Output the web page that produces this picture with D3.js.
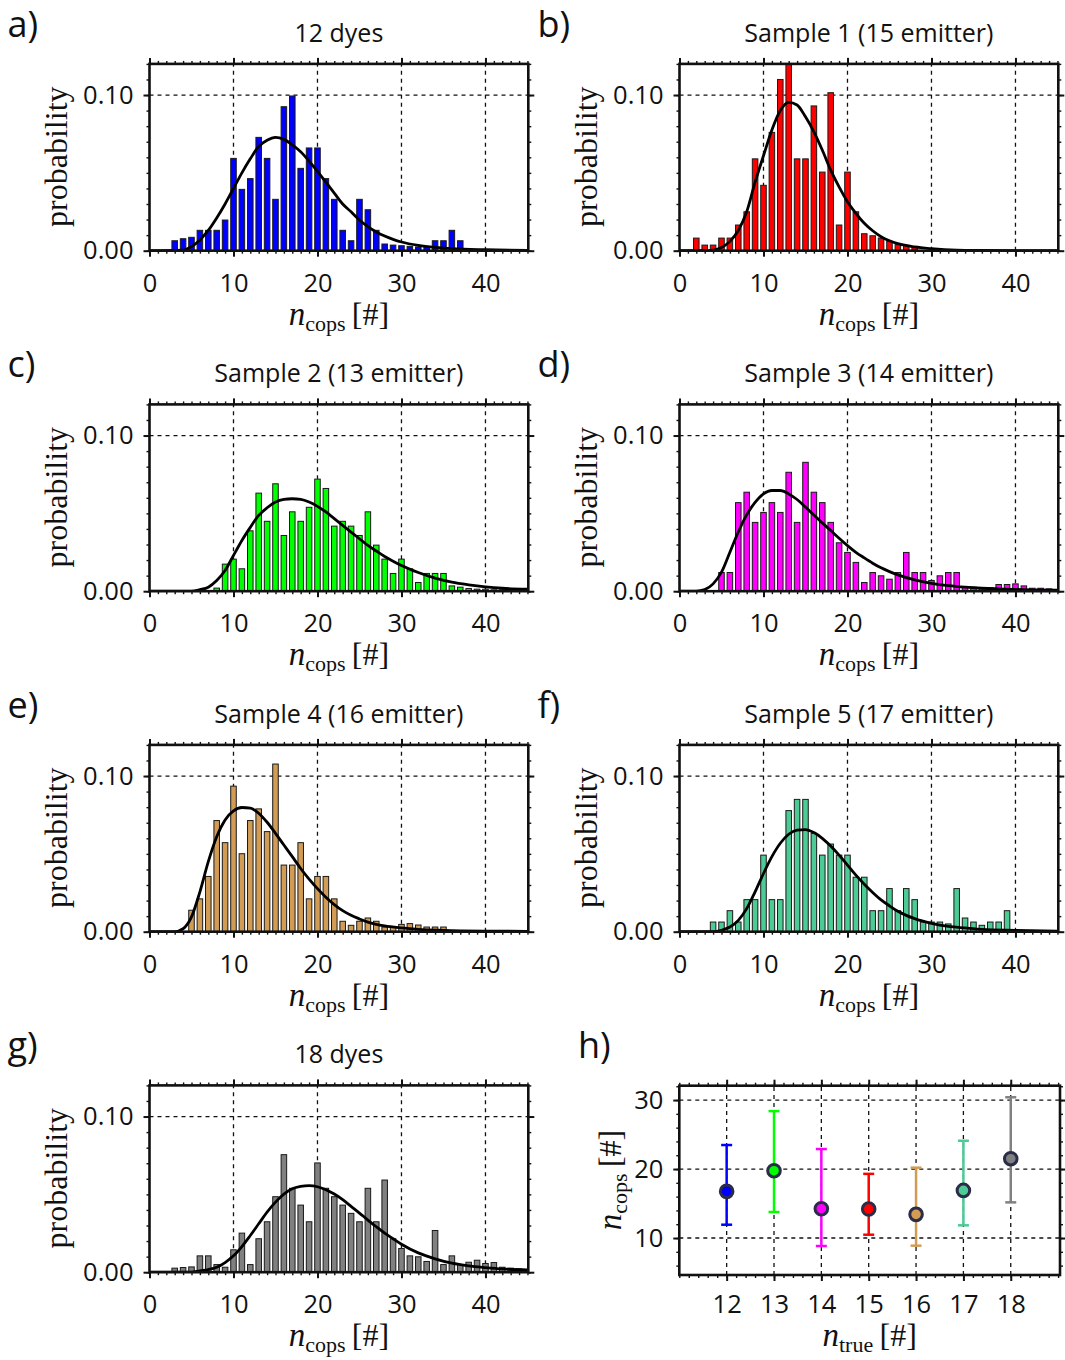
<!DOCTYPE html>
<html>
<head>
<meta charset="utf-8">
<script src="https://cdn.jsdelivr.net/npm/d3@7"></script>
<style>
  body { margin: 0; background: #fff; }
  svg { display: block; }
  .sans { font-family: "Open Sans", "Noto Sans", sans-serif; fill: #111; }
  .serif { font-family: "Liberation Serif", "DejaVu Serif", serif; fill: #111; }
</style>
</head>
<body>
<svg id="fig" width="1065" height="1360"></svg>
<script>
// ---------- histogram data: probability per n_cops bin (first bin = *Start) ----------
const dyes12Start = 3;
const dyes12Prob = [0.0064, 0.0077, 0.0086, 0.0131, 0.0131, 0.0131, 0.0197, 0.0593, 0.0394, 0.0463,
  0.0728, 0.0593, 0.0330, 0.0925, 0.0994, 0.0529, 0.0660, 0.0660, 0.0463, 0.0330, 0.0131, 0.0064,
  0.0330, 0.0263, 0.0131, 0.0043, 0.0036, 0.0032, 0.0028, 0.0024, 0.0024, 0.0064, 0.0064, 0.0131, 0.0064];

const sample1Start = 2;
const sample1Prob = [0.0081, 0.0036, 0.0036, 0.0081, 0.0081, 0.0165, 0.0250, 0.0590, 0.0420, 0.0760,
  0.1100, 0.1250, 0.0590, 0.0590, 0.0930, 0.0505, 0.1015, 0.0165, 0.0505, 0.0250, 0.0109, 0.0096,
  0.0081, 0.0060, 0.0039, 0.0034, 0.0026];

const sample2Start = 8;
const sample2Prob = [0.0020, 0.0174, 0.0206, 0.0144, 0.0388, 0.0630, 0.0449, 0.0690, 0.0358, 0.0510,
  0.0449, 0.0539, 0.0720, 0.0660, 0.0418, 0.0449, 0.0418, 0.0358, 0.0510, 0.0296, 0.0206, 0.0114,
  0.0206, 0.0144, 0.0056, 0.0114, 0.0114, 0.0114, 0.0034, 0.0026, 0.0017, 0.0013, 0.0013, 0.0009,
  0.0009, 0.0009, 0.0009];

const sample3Start = 5;
const sample3Prob = [0.0120, 0.0120, 0.0569, 0.0636, 0.0442, 0.0506, 0.0569, 0.0506, 0.0764, 0.0442,
  0.0828, 0.0636, 0.0569, 0.0442, 0.0311, 0.0249, 0.0185, 0.0056, 0.0120, 0.0099, 0.0077, 0.0120,
  0.0249, 0.0120, 0.0120, 0.0069, 0.0099, 0.0120, 0.0120, 0.0030, 0.0026, 0.0021, 0.0021, 0.0043,
  0.0043, 0.0047, 0.0034, 0.0019, 0.0019, 0.0015];

const sample4Start = 5;
const sample4Prob = [0.0138, 0.0211, 0.0355, 0.0714, 0.0572, 0.0935, 0.0501, 0.0714, 0.0789, 0.0643,
  0.1077, 0.0428, 0.0428, 0.0572, 0.0211, 0.0355, 0.0355, 0.0211, 0.0067, 0.0041, 0.0067, 0.0088,
  0.0067, 0.0030, 0.0030, 0.0047, 0.0052, 0.0043, 0.0030, 0.0030, 0.0030];

const sample5Start = 4;
const sample5Prob = [0.0062, 0.0062, 0.0135, 0.0062, 0.0206, 0.0206, 0.0492, 0.0206, 0.0206, 0.0778,
  0.0850, 0.0850, 0.0632, 0.0492, 0.0563, 0.0492, 0.0492, 0.0350, 0.0350, 0.0135, 0.0135, 0.0277,
  0.0135, 0.0277, 0.0206, 0.0062, 0.0062, 0.0062, 0.0050, 0.0277, 0.0088, 0.0062, 0.0041, 0.0062,
  0.0062, 0.0135];

const dyes18Start = 3;
const dyes18Prob = [0.0026, 0.0030, 0.0034, 0.0105, 0.0105, 0.0049, 0.0032, 0.0144, 0.0251, 0.0049,
  0.0215, 0.0324, 0.0485, 0.0755, 0.0539, 0.0431, 0.0324, 0.0702, 0.0539, 0.0485, 0.0431, 0.0378,
  0.0324, 0.0539, 0.0324, 0.0592, 0.0215, 0.0152, 0.0105, 0.0099, 0.0069, 0.0268, 0.0049, 0.0105,
  0.0049, 0.0064, 0.0077, 0.0056, 0.0062, 0.0032, 0.0026, 0.0021];

// ---------- fitted distributions, sampled points ----------
const dyes12FitX = [0, 4, 5, 6, 7, 8, 9, 10, 11, 12, 13, 14, 15, 16, 17, 18, 19, 20, 21, 22, 23, 24, 25, 26, 27, 28, 29, 30, 32, 34, 36, 40, 45];
const dyes12FitY = [0, 0.0004, 0.0026, 0.0069, 0.013, 0.021, 0.030, 0.040, 0.050, 0.059, 0.067, 0.071, 0.0728, 0.0715, 0.068, 0.0636, 0.0576, 0.051, 0.044, 0.037, 0.030, 0.025, 0.0197, 0.0154, 0.012, 0.0094, 0.0073, 0.0056, 0.0034, 0.0021, 0.0013, 0.0006, 0.0002];

const sample1FitX = [0, 3, 4, 5, 6, 7, 8, 9, 10, 11, 12, 13, 14, 15, 16, 17, 18, 19, 20, 21, 22, 23, 24, 25, 26, 28, 30, 33, 36, 45];
const sample1FitY = [0, 0, 0.0004, 0.002, 0.006, 0.013, 0.025, 0.044, 0.061, 0.0775, 0.090, 0.0953, 0.0936, 0.086, 0.0764, 0.0647, 0.0518, 0.041, 0.0315, 0.024, 0.0176, 0.0128, 0.009, 0.0064, 0.0045, 0.0024, 0.0013, 0.0004, 0.0002, 0];

const sample2FitX = [0, 5, 6, 7, 8, 9, 10, 11, 12, 13, 14, 15, 16, 17, 18, 19, 20, 21, 22, 23, 24, 25, 26, 27, 28, 29, 30, 32, 34, 36, 38, 40, 42, 45];
const sample2FitY = [0, 0, 0.001, 0.0026, 0.0069, 0.0133, 0.023, 0.0326, 0.041, 0.0487, 0.0536, 0.0573, 0.059, 0.0594, 0.059, 0.0573, 0.0545, 0.0509, 0.0466, 0.0423, 0.038, 0.0337, 0.0294, 0.0258, 0.0223, 0.0193, 0.0165, 0.012, 0.0084, 0.0058, 0.0041, 0.0028, 0.0019, 0.0013];

const sample3FitX = [0, 2, 3, 4, 5, 6, 7, 8, 9, 10, 11, 12, 13, 14, 15, 16, 17, 18, 19, 20, 21, 22, 23, 24, 25, 26, 28, 30, 32, 34, 36, 40, 45];
const sample3FitY = [0, 0, 0.001, 0.0047, 0.0122, 0.025, 0.038, 0.049, 0.057, 0.0625, 0.0647, 0.0647, 0.0625, 0.0589, 0.054, 0.049, 0.0439, 0.039, 0.034, 0.0293, 0.025, 0.0214, 0.018, 0.015, 0.0126, 0.0105, 0.0073, 0.0051, 0.0036, 0.0026, 0.0019, 0.0011, 0.0006];

const sample4FitX = [0, 3, 4, 5, 6, 7, 8, 9, 10, 11, 12, 13, 14, 15, 16, 17, 18, 19, 20, 21, 22, 23, 24, 25, 26, 28, 30, 32, 35, 40, 45];
const sample4FitY = [0, 0, 0.0019, 0.0095, 0.0256, 0.045, 0.061, 0.0718, 0.0776, 0.0798, 0.0794, 0.0761, 0.0703, 0.0632, 0.0557, 0.0482, 0.0406, 0.0338, 0.0277, 0.0222, 0.0174, 0.0135, 0.0105, 0.0082, 0.0062, 0.0037, 0.0024, 0.0015, 0.0009, 0.0004, 0.0002];

const sample5FitX = [0, 4, 5, 6, 7, 8, 9, 10, 11, 12, 13, 14, 15, 16, 17, 18, 19, 20, 21, 22, 23, 24, 25, 26, 27, 28, 30, 32, 34, 36, 40, 45];
const sample5FitY = [0, 0, 0.0009, 0.003, 0.0073, 0.0148, 0.0256, 0.0374, 0.0482, 0.0568, 0.0626, 0.0652, 0.0656, 0.0637, 0.06, 0.055, 0.0492, 0.0428, 0.0363, 0.0305, 0.0252, 0.0204, 0.0166, 0.0131, 0.0105, 0.0084, 0.0054, 0.0034, 0.0024, 0.0015, 0.0009, 0.0004];

const dyes18FitX = [0, 5, 6, 7, 8, 9, 10, 11, 12, 13, 14, 15, 16, 17, 18, 19, 20, 21, 22, 23, 24, 25, 26, 27, 28, 29, 30, 32, 34, 36, 38, 40, 42, 45];
const dyes18FitY = [0, 0, 0.0009, 0.0017, 0.0032, 0.0062, 0.0105, 0.0165, 0.0236, 0.0311, 0.0386, 0.045, 0.0502, 0.0536, 0.0551, 0.0556, 0.0549, 0.053, 0.0502, 0.0466, 0.0423, 0.038, 0.0335, 0.0292, 0.0251, 0.0215, 0.018, 0.0124, 0.0086, 0.0058, 0.0041, 0.003, 0.0021, 0.0015];

// ---------- summary panel ----------
const nTrue = [12, 13, 14, 15, 16, 17, 18];
const nCopsMean = [16.76, 19.76, 14.25, 14.2, 13.43, 16.9, 21.5];
const nCopsLow = [11.93, 13.77, 8.84, 10.48, 8.89, 11.84, 15.17];
const nCopsHigh = [23.48, 28.4, 22.9, 19.3, 20.2, 24.1, 30.4];

// ---------- axis ticks ----------
const histXTicks = [0, 10, 20, 30, 40];
const histYTicks = [0, 0.1];
const summaryXTicks = [12, 13, 14, 15, 16, 17, 18];
const summaryYTicks = [10, 20, 30];

// ---------- colours ----------
const cBlue = "#0000ff", cRed = "#ff0000", cGreen = "#00ff00", cMagenta = "#ff00ff",
      cTan = "#d29c55", cAqua = "#4ccb95", cGray = "#808080";

const panels = [
  { letter: "a)", title: "12 dyes",               col: 0, row: 0, start: dyes12Start,  prob: dyes12Prob,  fx: dyes12FitX,  fy: dyes12FitY,  color: cBlue },
  { letter: "b)", title: "Sample 1 (15 emitter)", col: 1, row: 0, start: sample1Start, prob: sample1Prob, fx: sample1FitX, fy: sample1FitY, color: cRed },
  { letter: "c)", title: "Sample 2 (13 emitter)", col: 0, row: 1, start: sample2Start, prob: sample2Prob, fx: sample2FitX, fy: sample2FitY, color: cGreen },
  { letter: "d)", title: "Sample 3 (14 emitter)", col: 1, row: 1, start: sample3Start, prob: sample3Prob, fx: sample3FitX, fy: sample3FitY, color: cMagenta },
  { letter: "e)", title: "Sample 4 (16 emitter)", col: 0, row: 2, start: sample4Start, prob: sample4Prob, fx: sample4FitX, fy: sample4FitY, color: cTan },
  { letter: "f)", title: "Sample 5 (17 emitter)", col: 1, row: 2, start: sample5Start, prob: sample5Prob, fx: sample5FitX, fy: sample5FitY, color: cAqua },
  { letter: "g)", title: "18 dyes",               col: 0, row: 3, start: dyes18Start,  prob: dyes18Prob,  fx: dyes18FitX,  fy: dyes18FitY,  color: cGray }
];
const summaryColors = [cBlue, cGreen, cMagenta, cRed, cTan, cAqua, cGray];

const svg = d3.select("#fig");
const ink = "#111";
const colLeft = [149.5, 679.5];
const rowBottom = [250.7, 591.2, 931.7, 1272.2];

// four-sided outward ticks (major + minor) and a heavy frame
function frameAxes(g, x, y, xMajor, xMinor, yMajor, yMinor, xFmt, yFmt, xPad, yPad) {
  const [x0, x1] = x.range(), [y0, y1] = y.range();
  const tickStyle = (sel, w) => {
    sel.select(".domain").remove();
    sel.selectAll("line").attr("stroke", ink).attr("stroke-width", w);
  };
  const lab = sel => sel.selectAll("text").attr("class", "sans").attr("font-size", 25.5).attr("fill", ink);

  g.append("g").attr("transform", `translate(0,${y0})`)
    .call(d3.axisBottom(x).tickValues(xMinor).tickSize(3).tickFormat("")).call(s => tickStyle(s, 1.4));
  g.append("g").attr("transform", `translate(0,${y1})`)
    .call(d3.axisTop(x).tickValues(xMinor).tickSize(3).tickFormat("")).call(s => tickStyle(s, 1.4));
  g.append("g").attr("transform", `translate(${x0},0)`)
    .call(d3.axisLeft(y).tickValues(yMinor).tickSize(3).tickFormat("")).call(s => tickStyle(s, 1.4));
  g.append("g").attr("transform", `translate(${x1},0)`)
    .call(d3.axisRight(y).tickValues(yMinor).tickSize(3).tickFormat("")).call(s => tickStyle(s, 1.4));

  g.append("g").attr("transform", `translate(0,${y0})`)
    .call(d3.axisBottom(x).tickValues(xMajor).tickSize(6).tickPadding(xPad).tickFormat(xFmt))
    .call(s => tickStyle(s, 2)).call(lab);
  g.append("g").attr("transform", `translate(0,${y1})`)
    .call(d3.axisTop(x).tickValues(xMajor).tickSize(6).tickFormat("")).call(s => tickStyle(s, 2));
  g.append("g").attr("transform", `translate(${x0},0)`)
    .call(d3.axisLeft(y).tickValues(yMajor).tickSize(6).tickPadding(yPad).tickFormat(yFmt))
    .call(s => tickStyle(s, 2)).call(lab);
  g.append("g").attr("transform", `translate(${x1},0)`)
    .call(d3.axisRight(y).tickValues(yMajor).tickSize(6).tickFormat("")).call(s => tickStyle(s, 2));

  g.append("rect").attr("x", x0).attr("y", y1).attr("width", x1 - x0).attr("height", y0 - y1)
    .attr("fill", "none").attr("stroke", ink).attr("stroke-width", 2.6);
}

// label of the form  n_sub [#]
function mathLabel(g, sub, cx, cy, rotate) {
  const t = g.append("text").attr("class", "serif").attr("text-anchor", "middle")
    .attr("transform", rotate ? `translate(${cx},${cy}) rotate(-90)` : `translate(${cx},${cy})`);
  t.append("tspan").attr("font-size", 33).attr("font-style", "italic").text("n");
  t.append("tspan").attr("font-size", 22).attr("dy", 6).text(sub);
  t.append("tspan").attr("font-size", 32).attr("dy", -6).text("\u2009[#]");
}

function gridLines(g, x, y, xs, ys) {
  const [x0, x1] = x.range(), [y0, y1] = y.range();
  const grid = g.append("g").attr("stroke", ink).attr("stroke-width", 1.3).attr("stroke-dasharray", "4,4");
  grid.selectAll(".gx").data(xs).join("line")
    .attr("x1", d => x(d)).attr("x2", d => x(d)).attr("y1", y0).attr("y2", y1);
  grid.selectAll(".gy").data(ys).join("line")
    .attr("x1", x0).attr("x2", x1).attr("y1", d => y(d)).attr("y2", d => y(d));
}

panels.forEach((p, i) => {
  const left = colLeft[p.col], bottom = rowBottom[p.row];
  const x = d3.scaleLinear().domain([0, 45.1]).range([left, left + 378.8]);
  const y = d3.scaleLinear().domain([0, 0.12]).range([bottom, bottom - 186.8]);
  const g = svg.append("g");

  const clipId = "clip" + i;
  g.append("clipPath").attr("id", clipId).append("rect")
    .attr("x", x.range()[0]).attr("y", y.range()[1])
    .attr("width", x.range()[1] - x.range()[0]).attr("height", y.range()[0] - y.range()[1]);

  gridLines(g, x, y, [10, 20, 30, 40], [0.1]);

  const bars = p.prob.map((v, k) => ({ n: p.start + k, v })).filter(d => d.v > 0);
  const bw = 0.66;
  g.append("g").attr("clip-path", `url(#${clipId})`)
    .selectAll("rect").data(bars).join("rect")
    .attr("x", d => x(d.n - bw / 2)).attr("width", x(bw) - x(0))
    .attr("y", d => y(d.v)).attr("height", d => y(0) - y(d.v))
    .attr("fill", p.color).attr("stroke", "#1a1a1a").attr("stroke-width", 1);

  const line = d3.line().x(d => x(d[0])).y(d => y(d[1])).curve(d3.curveMonotoneX);
  g.append("path").attr("clip-path", `url(#${clipId})`)
    .attr("d", line(p.fx.map((v, k) => [v, p.fy[k]])))
    .attr("fill", "none").attr("stroke", "#000").attr("stroke-width", 2.8);

  frameAxes(g, x, y, histXTicks, d3.range(0, 46, 1), histYTicks, d3.range(0, 0.1201, 0.01),
    d3.format("d"), d3.format(".2f"), 17, 10);

  const cx = (x.range()[0] + x.range()[1]) / 2;
  g.append("text").attr("class", "sans").attr("font-size", 25).attr("text-anchor", "middle")
    .attr("x", cx).attr("y", y.range()[1] - 22).text(p.title);
  g.append("text").attr("class", "sans").attr("font-size", 36)
    .attr("x", left - 142).attr("y", bottom - 214).text(p.letter);
  g.append("text").attr("class", "serif").attr("font-size", 32).attr("text-anchor", "middle")
    .attr("transform", `translate(${left - 83},${bottom - 94}) rotate(-90)`).text("probability");
  mathLabel(g, "cops", cx, bottom + 74, false);
});

// ---------- h) mean n_cops with spread versus true emitter count ----------
{
  const x = d3.scaleLinear().domain([11, 19.04]).range([679.3, 1060]);
  const y = d3.scaleLinear().domain([4.64, 32.08]).range([1275, 1085.7]);
  const g = svg.append("g");
  gridLines(g, x, y, summaryXTicks, summaryYTicks);

  const pts = nTrue.map((n, k) => ({ n, m: nCopsMean[k], lo: nCopsLow[k], hi: nCopsHigh[k], c: summaryColors[k] }));
  const eb = g.append("g");
  eb.selectAll(".stem").data(pts).join("line")
    .attr("x1", d => x(d.n)).attr("x2", d => x(d.n)).attr("y1", d => y(d.lo)).attr("y2", d => y(d.hi))
    .attr("stroke", d => d.c).attr("stroke-width", 2.5);
  ["lo", "hi"].forEach(key => {
    eb.selectAll(".cap-" + key).data(pts).join("line")
      .attr("x1", d => x(d.n) - 5.5).attr("x2", d => x(d.n) + 5.5)
      .attr("y1", d => y(d[key])).attr("y2", d => y(d[key]))
      .attr("stroke", d => d.c).attr("stroke-width", 2.5);
  });
  g.append("g").selectAll("circle").data(pts).join("circle")
    .attr("cx", d => x(d.n)).attr("cy", d => y(d.m)).attr("r", 6.3)
    .attr("fill", d => d.c).attr("stroke", "#2b2d48").attr("stroke-width", 3);

  frameAxes(g, x, y, summaryXTicks, d3.range(11, 19.01, 0.2), summaryYTicks, d3.range(6, 32.01, 2),
    d3.format("d"), d3.format("d"), 14, 10);

  g.append("text").attr("class", "sans").attr("font-size", 36)
    .attr("x", 578).attr("y", 1058).text("h)");
  mathLabel(g, "true", (679.3 + 1060) / 2, 1346, false);
  mathLabel(g, "cops", 621, 1180, true);
}
</script>
</body>
</html>
